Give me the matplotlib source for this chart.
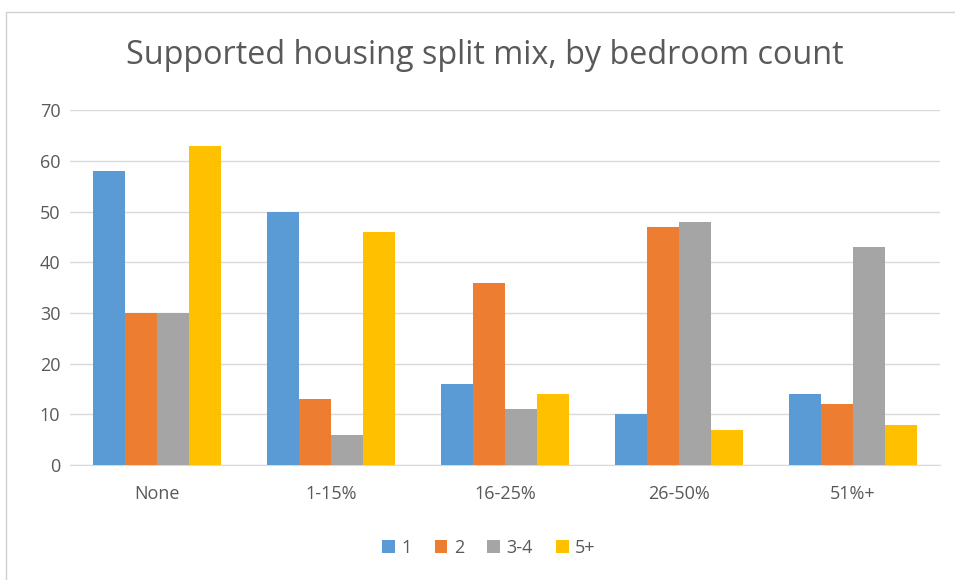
import matplotlib.pyplot as plt
import numpy as np
from matplotlib.patches import Rectangle

plt.rcParams['font.family'] = ['Open Sans', 'DejaVu Sans']

categories = ['None', '1-15%', '16-25%', '26-50%', '51%+']
series_names = ['1', '2', '3-4', '5+']
beds_1 = [58, 50, 16, 10, 14]
beds_2 = [30, 13, 36, 47, 12]
beds_3_4 = [30, 6, 11, 48, 43]
beds_5_plus = [63, 46, 14, 7, 8]

colors = ['#5b9bd5', '#ed7d31', '#a5a5a5', '#ffc000']
text_color = '#595959'

fig = plt.figure(figsize=(9.55, 5.8), dpi=100)
ax = fig.add_axes([0.0733, 0.198, 0.911, 0.612])

# thin frame around the chart area
fig.patches.append(Rectangle((0.006, -0.1), 1.2, 1.08, transform=fig.transFigure,
                             fill=False, edgecolor='#d0d0d0', linewidth=1.0))

x = np.arange(len(categories))
width = 0.185
all_series = [beds_1, beds_2, beds_3_4, beds_5_plus]
for i, (vals, name) in enumerate(zip(all_series, series_names)):
    ax.bar(x + (i - 1.5) * width, vals, width, color=colors[i], label=name, zorder=3)

ax.set_xlim(-0.5, len(categories) - 0.5)
ax.set_ylim(0, 70)
ax.set_yticks(range(0, 71, 10))
ax.set_xticks(x)
ax.set_xticklabels(categories)
ax.grid(axis='y', color='#d9d9d9', linewidth=1.0, zorder=0)
for side in ['top', 'right', 'left']:
    ax.spines[side].set_visible(False)
ax.spines['bottom'].set_color('#d9d9d9')
ax.tick_params(axis='both', length=0, labelsize=13, colors=text_color)
ax.tick_params(axis='y', pad=7)
ax.tick_params(axis='x', pad=14)

fig.text(0.508, 0.905, 'Supported housing split mix, by bedroom count',
         ha='center', va='center', fontsize=23.3, color=text_color)

fig.legend(loc='center', bbox_to_anchor=(0.512, 0.055), ncol=4, frameon=False,
           fontsize=13, handlelength=0.7, handleheight=0.7, handletextpad=0.35,
           columnspacing=1.3, labelcolor=text_color)

fig.savefig('out.png', dpi=100, facecolor='white')
